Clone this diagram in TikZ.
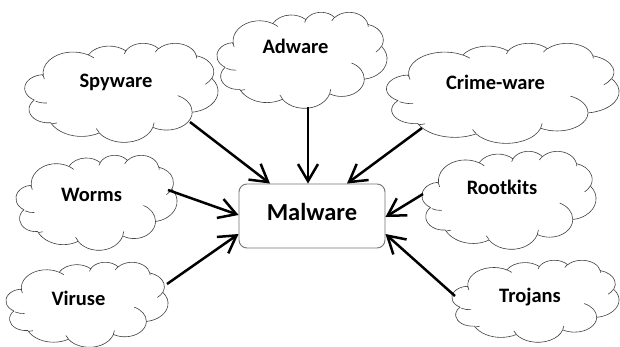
\documentclass[tikz,border=0pt]{standalone}
\usepackage{fontspec}
\setmainfont{Carlito}
\usetikzlibrary{arrows.meta}

% Parametric angle of the point seen at visual angle #1 on an ellipse with radii #2, #3
\pgfmathdeclarefunction{vpar}{3}{\pgfmathparse{atan2(#2*sin(#1),#3*cos(#1))}}
% Elliptical arc given by radii, visual start angle and sweep
\newcommand\carc[4]{arc[x radius=#1, y radius=#2, start angle={vpar(#3,#1,#2)},
  delta angle={Mod(vpar(#3+#4,#1,#2)-vpar(#3,#1,#2),360)}]}

% Cloud outline in a 432 x 432 frame, placed at (#1,#2) with size #3 x #4
\newcommand\cloudshape[4]{%
  \begin{scope}[shift={(#1,#2)}, x={({#3/432*1pt},0pt)}, y={(0pt,{-#4/432*1pt})}]
    \draw[cloudline] (39.00,143.70)
      \carc{67.53}{91.90}{-190.48748}{123.78053}
      \carc{53.33}{72.67}{-144.10238}{89.94523}
      \carc{43.65}{59.45}{-145.80792}{99.72302}
      \carc{48.57}{65.95}{-130.98607}{117.24173}
      \carc{53.33}{72.73}{-78.70888}{109.02692}
      \carc{67.75}{92.20}{-46.26725}{130.26900}
      \carc{57.85}{78.67}{0.62502}{114.03333}
      \carc{67.52}{92.15}{22.45160}{115.17255}
      \carc{77.20}{105.43}{66.24263}{80.44602}
      \carc{43.60}{59.18}{-274.94208}{146.73557}
      \carc{43.45}{59.45}{-246.82850}{152.51885}
      -- cycle;
    \draw[cloudline]
      (46.93,261.77) \carc{43.45}{59.45}{86.74200}{26.42950}
      (69.28,348.99) \carc{43.60}{59.18}{73.61047}{11.44747}
      (164.78,390.90) \carc{67.52}{92.15}{137.62415}{14.08110}
      (288.27,347.51) \carc{67.52}{92.15}{6.45327}{15.99835}
      (341.29,229.54) \carc{57.85}{78.67}{-70.29235}{70.91737}
      (417.98,153.54) \carc{53.33}{72.73}{30.31803}{27.75150}
      (383.24,54.26) \carc{48.57}{65.95}{-13.74433}{14.85890}
      (290.78,39.52) \carc{48.57}{65.95}{-149.18145}{18.19537}
      (221.41,47.20) \carc{43.65}{59.45}{-163.49427}{17.68635}
      (140.00,51.92) \carc{67.53}{91.90}{-66.70695}{12.31935}
      (41.27,157.89) \carc{67.53}{91.90}{157.65435}{11.85817};
  \end{scope}}

\tikzset{
  cloudline/.style={draw=black!75, line width=0.6pt, fill=white},
  cloudlabel/.style={anchor=base, font=\bfseries\fontsize{20.5}{24}\selectfont},
  mainbox/.style={draw=black!55, line width=0.9pt, rounded corners=8pt, fill=white,
    minimum width=146pt, minimum height=64pt, inner sep=0pt, text depth=8pt,
    font=\bfseries\fontsize{24.5}{28}\selectfont},
  feed/.style={line width=2.5pt, -{Straight Barb[length=17pt, width=20pt]}}
}

\begin{document}
\begin{tikzpicture}[x=1pt, y=-1pt]
  \useasboundingbox[fill=white] (0,0) rectangle (620,347);

  % clouds
  \cloudshape{26}{43}{192}{99}
  \cloudshape{218}{12}{169}{96}
  \cloudshape{388}{43}{231}{100}
  \cloudshape{17}{155}{160}{95}
  \cloudshape{423}{151}{173}{98}
  \cloudshape{7}{262}{161}{85}
  \cloudshape{453}{260}{166}{82}

  % labels
  \node[cloudlabel] (spy)   at (116,88)    {Spyware};
  \node[cloudlabel] (ad)    at (295.5,54)  {Adware};
  \node[cloudlabel] (crime) at (495.5,90)  {Crime-ware};
  \node[cloudlabel] (worm)  at (91.5,201)  {Worms};
  \node[cloudlabel] (root)  at (502,195)   {Rootkits};
  \node[cloudlabel] (vir)   at (78.5,305)  {Viruse};
  \node[cloudlabel] (troj)  at (530,302)   {Trojans};

  \node[mainbox] (mal) at (312,216) {Malware};

  % arrow starts on the cloud outlines
  \coordinate (spy-out)   at (190,122);
  \coordinate (ad-out)    at (308,107);
  \coordinate (crime-out) at (422,128);
  \coordinate (worm-out)  at (168,190);
  \coordinate (vir-out)   at (167,284);
  \coordinate (root-out)  at (423,194);
  \coordinate (troj-out)  at (455,296);

  \draw[feed] (spy-out)   -- ([xshift=-42pt]mal.north);
  \draw[feed] (ad-out)    -- ([xshift=-4pt]mal.north);
  \draw[feed] (crime-out) -- ([xshift=35pt]mal.north);
  \draw[feed] (worm-out)  -- ([yshift=1pt]mal.west);
  \draw[feed] (vir-out)   -- ([yshift=-18pt]mal.west);
  \draw[feed] (root-out)  -- ([yshift=-1pt]mal.east);
  \draw[feed] (troj-out)  -- ([yshift=-18pt]mal.east);
\end{tikzpicture}
\end{document}
